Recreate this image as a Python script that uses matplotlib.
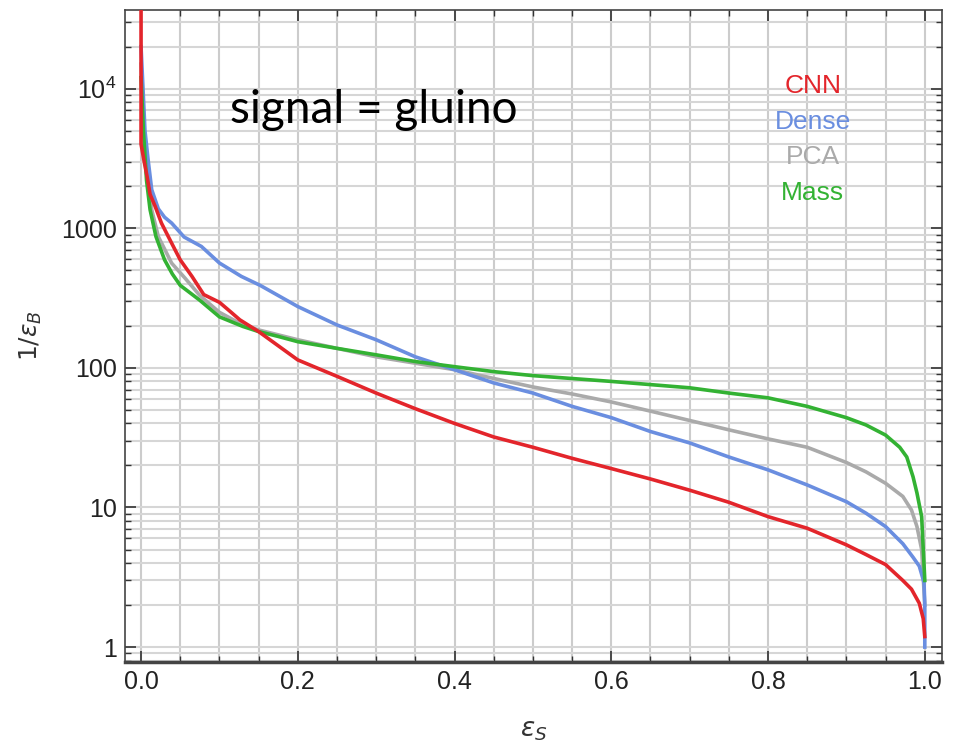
import numpy as np
import matplotlib.pyplot as plt
from matplotlib.ticker import FixedLocator, NullFormatter

# ROC-style curves (x = signal efficiency, y = 1/background efficiency)
cnn_x = [0.0, 0.0, 0.004, 0.008, 0.0115, 0.018, 0.026, 0.039, 0.05, 0.065, 0.08, 0.1, 0.115, 0.126,
         0.15, 0.2, 0.25, 0.3, 0.35, 0.4, 0.45, 0.5, 0.55, 0.6, 0.65, 0.7, 0.75, 0.8, 0.85,
         0.9, 0.925, 0.95, 0.972, 0.983, 0.993, 0.998, 1.0]
cnn_y = [40000, 4000, 3000, 2300, 1750, 1435, 1090, 783, 594, 452, 335, 295, 250, 221,
         182, 114, 87, 66, 51, 40, 32, 27, 22.5, 19, 16, 13.3, 10.9, 8.6, 7.1,
         5.4, 4.6, 3.9, 3.0, 2.6, 2.06, 1.6, 1.19]

dense_x = [0.0, 0.005, 0.009, 0.0136, 0.022, 0.03, 0.039, 0.055, 0.077, 0.1, 0.128, 0.152,
           0.2, 0.25, 0.3, 0.35, 0.4, 0.45, 0.5, 0.55, 0.6, 0.65, 0.7, 0.75, 0.8, 0.85,
           0.9, 0.925, 0.95, 0.972, 0.985, 0.993, 0.999, 1.0, 1.0]
dense_y = [20000, 5000, 3100, 1890, 1380, 1200, 1090, 865, 741, 564, 452, 390,
           275, 203, 159, 120, 97, 78, 66, 53, 44, 35, 29, 23, 18.6, 14.5,
           11, 9.1, 7.3, 5.5, 4.4, 3.8, 2.9, 2.0, 1.0]

pca_x = [0.0, 0.004, 0.009, 0.0136, 0.022, 0.039, 0.056, 0.075, 0.1, 0.13, 0.15, 0.2, 0.25,
         0.3, 0.35, 0.4, 0.45, 0.5, 0.55, 0.6, 0.65, 0.7, 0.75, 0.8, 0.85, 0.9, 0.925,
         0.95, 0.972, 0.983, 0.99, 0.996, 1.0]
pca_y = [15000, 5000, 2630, 1360, 873, 563, 440, 330, 250, 203, 187, 159, 138,
         120, 108, 97, 84, 73, 65, 57, 49, 42, 36, 31, 27, 21, 18,
         14.9, 12, 9.6, 7.3, 5.0, 2.0]

mass_x = [0.0, 0.003, 0.007, 0.0115, 0.019, 0.03, 0.04, 0.05, 0.075, 0.1, 0.13, 0.15, 0.175,
          0.2, 0.25, 0.3, 0.35, 0.4, 0.45, 0.5, 0.6, 0.7, 0.75, 0.8, 0.85, 0.9, 0.925,
          0.95, 0.968, 0.977, 0.985, 0.99, 0.996, 1.0]
mass_y = [12000, 5000, 2200, 1360, 873, 594, 470, 390, 305, 232, 198, 182, 168,
          154, 138, 124, 111, 102, 94, 88, 80, 72, 66, 61, 53, 44, 39,
          33, 27, 23, 16.6, 12.7, 8.6, 3.0]

curve_names = ["CNN", "Dense", "PCA", "Mass"]
curve_colors = ["#e3252b", "#6a8ee0", "#aaaaaa", "#33b233"]

x_ticks = [0.0, 0.2, 0.4, 0.6, 0.8, 1.0]
x_tick_labels = ["0.0", "0.2", "0.4", "0.6", "0.8", "1.0"]
y_ticks = [1, 10, 100, 1000, 10000]
y_tick_labels = ["1", "10", "100", "1000", r"$\mathregular{10^4}$"]

plt.rcParams["font.family"] = ["Liberation Sans", "DejaVu Sans"]

fig = plt.figure(figsize=(9.62, 7.44), dpi=100)
ax = fig.add_axes([0.130, 0.110, 0.849, 0.877])

# grid: every 0.05 on x, every 1..9 x 10^n on y
x_minor = np.arange(0, 1.0001, 0.05)
y_minor = [m * 10 ** d for d in range(-1, 5) for m in range(1, 10)]
for xv in x_minor:
    ax.axvline(xv, color="#cccccc", lw=1.5, zorder=0)
for yv in y_minor:
    ax.axhline(yv, color="#d6d6d6", lw=1.5, zorder=0)

# draw order: gray, blue, green, red on top
ax.plot(pca_x, pca_y, color=curve_colors[2], lw=2.6, zorder=2)
ax.plot(dense_x, dense_y, color=curve_colors[1], lw=2.6, zorder=3)
ax.plot(mass_x, mass_y, color=curve_colors[3], lw=2.6, zorder=4)
ax.plot(cnn_x, cnn_y, color=curve_colors[0], lw=2.6, zorder=5)

ax.set_yscale("log")
ax.set_xlim(-0.0204, 1.0217)
ax.set_ylim(0.78, 36800)

ax.xaxis.set_major_locator(FixedLocator(x_ticks))
ax.set_xticklabels(x_tick_labels)
ax.xaxis.set_minor_locator(FixedLocator(x_minor))
ax.yaxis.set_major_locator(FixedLocator(y_ticks))
ax.set_yticklabels(y_tick_labels)
ax.yaxis.set_minor_locator(FixedLocator(y_minor))
ax.yaxis.set_minor_formatter(NullFormatter())

ax.tick_params(which="both", direction="in", top=True, right=True, color="#333333")
ax.tick_params(which="major", length=8, width=1.2, labelsize=18, labelcolor="#222222", pad=6)
ax.tick_params(which="minor", length=4, width=1.0)

for side in ["left", "right", "top", "bottom"]:
    ax.spines[side].set_color("#444444")
    ax.spines[side].set_linewidth(1.2)
ax.spines["bottom"].set_linewidth(2.5)

ax.set_xlabel(r"$\epsilon_S$", fontsize=19, color="#333333", labelpad=18)
ax.set_ylabel(r"$1/\epsilon_B$", fontsize=18, color="#333333", labelpad=12)

# legend as coloured words
for i, name in enumerate(curve_names):
    ax.text(0.842, 0.883 - i * 0.0545, name, transform=ax.transAxes, ha="center", va="center",
            fontsize=19, color=curve_colors[i])

ax.text(0.128, 0.846, "signal = gluino", transform=ax.transAxes, ha="left", va="center",
        fontsize=33, family=["Lato", "DejaVu Sans"], color="black")

fig.savefig("out.png", dpi=100)
